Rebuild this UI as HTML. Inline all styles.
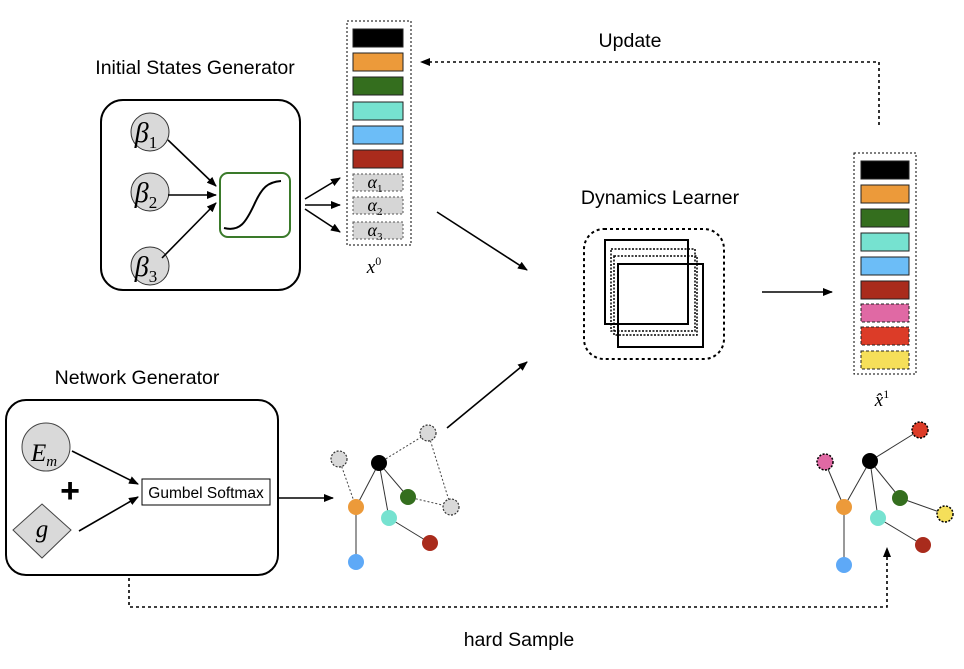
<!DOCTYPE html>
<html><head><style>body{margin:0;background:#fff}svg{display:block;font-family:"Liberation Sans",sans-serif}.m{font-family:"Liberation Serif",serif;font-style:italic}</style></head><body>
<svg width="964" height="669" viewBox="0 0 964 669" xmlns="http://www.w3.org/2000/svg">
<defs><marker id="a" markerWidth="10" markerHeight="8" refX="9" refY="4" orient="auto" markerUnits="userSpaceOnUse"><path d="M0,0L10,4L0,8z" fill="#000"/></marker></defs>
<text x="195" y="74" font-size="19.5" text-anchor="middle">Initial States Generator</text>
<rect x="101" y="100" width="199" height="190" rx="22" fill="none" stroke="#000" stroke-width="2"/>
<g fill="#d9d9d9" stroke="#333" stroke-width="1">
<circle cx="150" cy="132" r="19"/><circle cx="150" cy="192" r="19"/><circle cx="150" cy="266" r="19"/></g>
<rect x="220" y="173" width="70" height="64" rx="8" fill="none" stroke="#3a7a2a" stroke-width="2"/>
<path d="M224,228 C240,232 246,222 254,205 C262,187 268,182 281,181" fill="none" stroke="#000" stroke-width="2"/>
<g stroke="#000" stroke-width="1.6" marker-end="url(#a)">
<line x1="168" y1="140" x2="216" y2="186"/><line x1="168" y1="195" x2="216" y2="195"/><line x1="162" y1="258" x2="216" y2="203"/>
<line x1="305" y1="199" x2="340" y2="178"/><line x1="305" y1="205" x2="340" y2="205"/><line x1="305" y1="209" x2="340" y2="232"/>
<line x1="437" y1="212" x2="527" y2="270"/><line x1="762" y1="292" x2="832" y2="292"/>
<line x1="278" y1="498" x2="333" y2="498"/><line x1="447" y1="428" x2="527" y2="362"/>
<line x1="72" y1="451" x2="138" y2="484"/><line x1="79" y1="531" x2="138" y2="497"/></g>
<rect x="347" y="21" width="64" height="224" fill="none" stroke="#000" stroke-dasharray="2,2"/>
<g stroke="#222" stroke-width="1">
<rect x="353" y="29" width="50" height="18" fill="#000"/><rect x="353" y="53" width="50" height="18" fill="#ec9a3a"/>
<rect x="353" y="77" width="50" height="18" fill="#346e1e"/><rect x="353" y="102" width="50" height="18" fill="#76e2d0"/>
<rect x="353" y="126" width="50" height="18" fill="#6cbdf7"/><rect x="353" y="150" width="50" height="18" fill="#a92b1c"/></g>
<g fill="#d6d6d6" stroke="#555" stroke-dasharray="2,2"><rect x="353" y="174" width="50" height="17"/><rect x="353" y="197" width="50" height="17"/><rect x="353" y="222" width="50" height="17"/></g>
<text x="630" y="47" font-size="19.5" text-anchor="middle">Update</text>
<path d="M879,125 V62 H421" fill="none" stroke="#000" stroke-width="1.6" stroke-dasharray="3,3" marker-end="url(#a)"/>
<text x="660" y="204" font-size="19.5" text-anchor="middle">Dynamics Learner</text>
<rect x="584" y="229" width="140" height="130" rx="20" fill="none" stroke="#000" stroke-width="2" stroke-dasharray="3,3"/>
<rect x="605" y="240" width="83" height="84" fill="none" stroke="#000" stroke-width="2"/>
<rect x="611" y="249" width="84" height="82" fill="none" stroke="#000" stroke-width="1.5" stroke-dasharray="2,1.5"/>
<rect x="614" y="256" width="83" height="79" fill="none" stroke="#000" stroke-width="1.5" stroke-dasharray="2,1.5"/>
<rect x="618" y="264" width="85" height="83" fill="none" stroke="#000" stroke-width="2"/>
<rect x="854" y="153" width="62" height="221" fill="none" stroke="#000" stroke-dasharray="2,2"/>
<g stroke="#222" stroke-width="1">
<rect x="861" y="161" width="48" height="18" fill="#000"/><rect x="861" y="185" width="48" height="18" fill="#ec9a3a"/>
<rect x="861" y="209" width="48" height="18" fill="#346e1e"/><rect x="861" y="233" width="48" height="18" fill="#76e2d0"/>
<rect x="861" y="257" width="48" height="18" fill="#6cbdf7"/><rect x="861" y="281" width="48" height="18" fill="#a92b1c"/></g>
<g stroke="#222" stroke-dasharray="3,2"><rect x="861" y="304" width="48" height="18" fill="#e069a4"/><rect x="861" y="327" width="48" height="18" fill="#dc3c28"/><rect x="861" y="351" width="48" height="18" fill="#f5df5a"/></g>
<text x="137" y="384" font-size="19.5" text-anchor="middle">Network Generator</text>
<rect x="6" y="400" width="272" height="175" rx="20" fill="none" stroke="#000" stroke-width="2"/>
<ellipse cx="46" cy="447" rx="24" ry="24" fill="#d9d9d9" stroke="#444"/>
<path d="M42,504 L71,530 L42,558 L13,530z" fill="#d9d9d9" stroke="#444"/>
<text x="70" y="502" font-size="34" font-weight="bold" text-anchor="middle">+</text>
<rect x="142" y="479" width="128" height="26" fill="#fff" stroke="#000"/>
<text x="206" y="498" font-size="15.5" text-anchor="middle">Gumbel  Softmax</text>
<g class="m" font-size="28" text-anchor="middle">
<text x="146" y="142">β<tspan font-size="17" font-style="normal" dy="6">1</tspan></text>
<text x="146" y="202">β<tspan font-size="17" font-style="normal" dy="6">2</tspan></text>
<text x="146" y="276">β<tspan font-size="17" font-style="normal" dy="6">3</tspan></text>
<text x="375" y="188" font-size="18">α<tspan font-size="11" font-style="normal" dy="4">1</tspan></text>
<text x="375" y="211" font-size="18">α<tspan font-size="11" font-style="normal" dy="4">2</tspan></text>
<text x="375" y="236" font-size="18">α<tspan font-size="11" font-style="normal" dy="4">3</tspan></text>
<text x="374" y="273" font-size="19">x<tspan font-size="12" font-style="normal" dy="-8">0</tspan></text>
<text x="882" y="406" font-size="19">x̂<tspan font-size="12" font-style="normal" dy="-8">1</tspan></text>
<text x="44" y="461" font-size="25">E<tspan font-size="15" dy="5">m</tspan></text>
<text x="42" y="537" font-size="25">g</text></g>
<g stroke="#333" stroke-width="1">
<line x1="379" y1="463" x2="356" y2="507"/><line x1="379" y1="463" x2="389" y2="518"/><line x1="379" y1="463" x2="408" y2="497"/><line x1="356" y1="507" x2="356" y2="562"/><line x1="389" y1="518" x2="430" y2="543"/>
<line x1="870" y1="461" x2="844" y2="507"/><line x1="870" y1="461" x2="878" y2="518"/><line x1="870" y1="461" x2="900" y2="498"/><line x1="870" y1="461" x2="920" y2="430"/><line x1="844" y1="507" x2="825" y2="462"/><line x1="844" y1="507" x2="844" y2="565"/><line x1="878" y1="518" x2="923" y2="545"/><line x1="900" y1="498" x2="945" y2="514"/></g>
<g stroke="#444" stroke-width="1" stroke-dasharray="2,2">
<line x1="339" y1="459" x2="356" y2="507"/><line x1="379" y1="463" x2="428" y2="433"/><line x1="428" y1="433" x2="451" y2="507"/><line x1="408" y1="497" x2="451" y2="507"/></g>
<g fill="#d9d9d9" stroke="#333" stroke-dasharray="2,1.5" stroke-width="1.2"><circle cx="339" cy="459" r="8"/><circle cx="428" cy="433" r="8"/><circle cx="451" cy="507" r="8"/></g>
<circle cx="379" cy="463" r="8" fill="#000"/><circle cx="356" cy="507" r="8" fill="#ec9a3a"/><circle cx="389" cy="518" r="8" fill="#76e2d0"/><circle cx="356" cy="562" r="8" fill="#5ea9f7"/><circle cx="430" cy="543" r="8" fill="#a92b1c"/><circle cx="408" cy="497" r="8" fill="#346e1e"/>
<circle cx="870" cy="461" r="8" fill="#000"/><circle cx="844" cy="507" r="8" fill="#ec9a3a"/><circle cx="878" cy="518" r="8" fill="#76e2d0"/><circle cx="844" cy="565" r="8" fill="#5ea9f7"/><circle cx="923" cy="545" r="8" fill="#a92b1c"/><circle cx="900" cy="498" r="8" fill="#346e1e"/>
<g stroke="#000" stroke-width="1.5" stroke-dasharray="2,1.5"><circle cx="825" cy="462" r="8" fill="#e069a4"/><circle cx="920" cy="430" r="8" fill="#dc3c28"/><circle cx="945" cy="514" r="8" fill="#f5df5a"/></g>
<path d="M129,578 V607 H887 V548" fill="none" stroke="#000" stroke-width="1.6" stroke-dasharray="3,3" marker-end="url(#a)"/>
<text x="519" y="646" font-size="19.5" text-anchor="middle">hard Sample</text>
</svg>
</body></html>
